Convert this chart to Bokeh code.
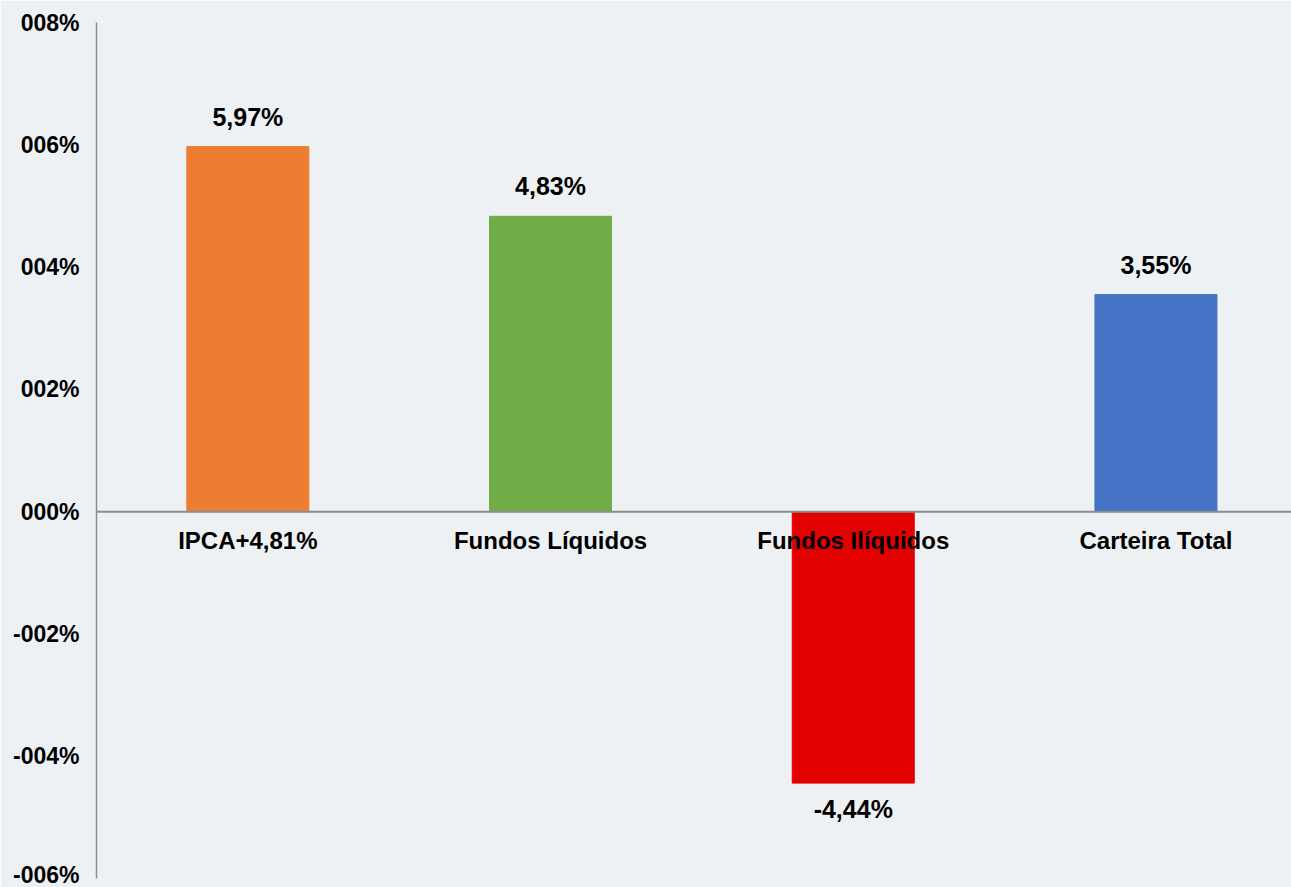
from bokeh.plotting import figure
from bokeh.models import Range1d, FixedTicker, Span, ColumnDataSource
from bokeh.core.properties import value
from bokeh.embed import file_html
from bokeh.resources import INLINE

categories = ["IPCA+4,81%", "Fundos Líquidos", "Fundos Ilíquidos", "Carteira Total"]
values = [5.97, 4.83, -4.44, 3.55]
colors = ["#ED7D31", "#70AD47", "#E20000", "#4472C4"]
tick_values = [-6, -4, -2, 0, 2, 4, 6, 8]
tick_labels = ["-006%", "-004%", "-002%", "000%", "002%", "004%", "006%", "008%"]

BG = "#EEF1F3"
FONT = "Liberation Sans"

xs = list(range(len(categories)))
labels = [f"{v:.2f}%".replace(".", ",") for v in values]

W, H = 1291, 887
left, top = 96, 22
frame_h = 856
bottom = H - top - frame_h
frame_w = W - left
spacing = 302.7

p = figure(width=W, height=H, output_backend="svg", toolbar_location=None,
           x_range=Range1d(-0.5, -0.5 + frame_w / spacing),
           y_range=Range1d(-6, 8), x_axis_location=None,
           min_border_left=left, min_border_right=0,
           min_border_top=top, min_border_bottom=bottom,
           background_fill_color=BG, border_fill_color=BG,
           outline_line_color=None)
p.xgrid.visible = False
p.ygrid.visible = False

src = ColumnDataSource(dict(x=xs, top=values, color=colors, cat=categories,
                            lab=labels, zero=[0] * len(xs)))
p.vbar(x="x", top="top", bottom=0, width=0.403, color="color", source=src)

ax = p.yaxis[0]
ax.ticker = FixedTicker(ticks=tick_values)
ax.major_label_overrides = {t: l for t, l in zip(tick_values, tick_labels)}
ax.major_tick_line_color = None
ax.minor_tick_line_color = None
ax.major_tick_out = 0
ax.major_tick_in = 0
ax.major_label_standoff = 17
ax.axis_line_color = "#8C8C8C"
ax.axis_line_width = 1.5
ax.major_label_text_font = FONT
ax.major_label_text_font_style = "bold"
ax.major_label_text_font_size = "23px"
ax.major_label_text_color = "#000000"

p.add_layout(Span(location=0, dimension="width", line_color="#8C8C8C", line_width=2))

pos = ColumnDataSource(dict(x=[x for x, v in zip(xs, values) if v >= 0],
                            y=[v for v in values if v >= 0],
                            t=[l for l, v in zip(labels, values) if v >= 0]))
neg = ColumnDataSource(dict(x=[x for x, v in zip(xs, values) if v < 0],
                            y=[v for v in values if v < 0],
                            t=[l for l, v in zip(labels, values) if v < 0]))
common = dict(text="t", text_align="center", text_baseline="alphabetic",
              text_font=value(FONT), text_font_style="bold",
              text_font_size="25px", text_color="#000000")
p.text(x="x", y="y", source=pos, y_offset=-30, **common)
p.text(x="x", y="y", source=neg, y_offset=26, **common)

p.text(x="x", y="zero", text="cat", source=src, y_offset=29,
       text_align="center", text_baseline="alphabetic",
       text_font=value(FONT), text_font_style="bold",
       text_font_size="24px", text_color="#000000")

open("out.html", "w").write(file_html(p, INLINE))
